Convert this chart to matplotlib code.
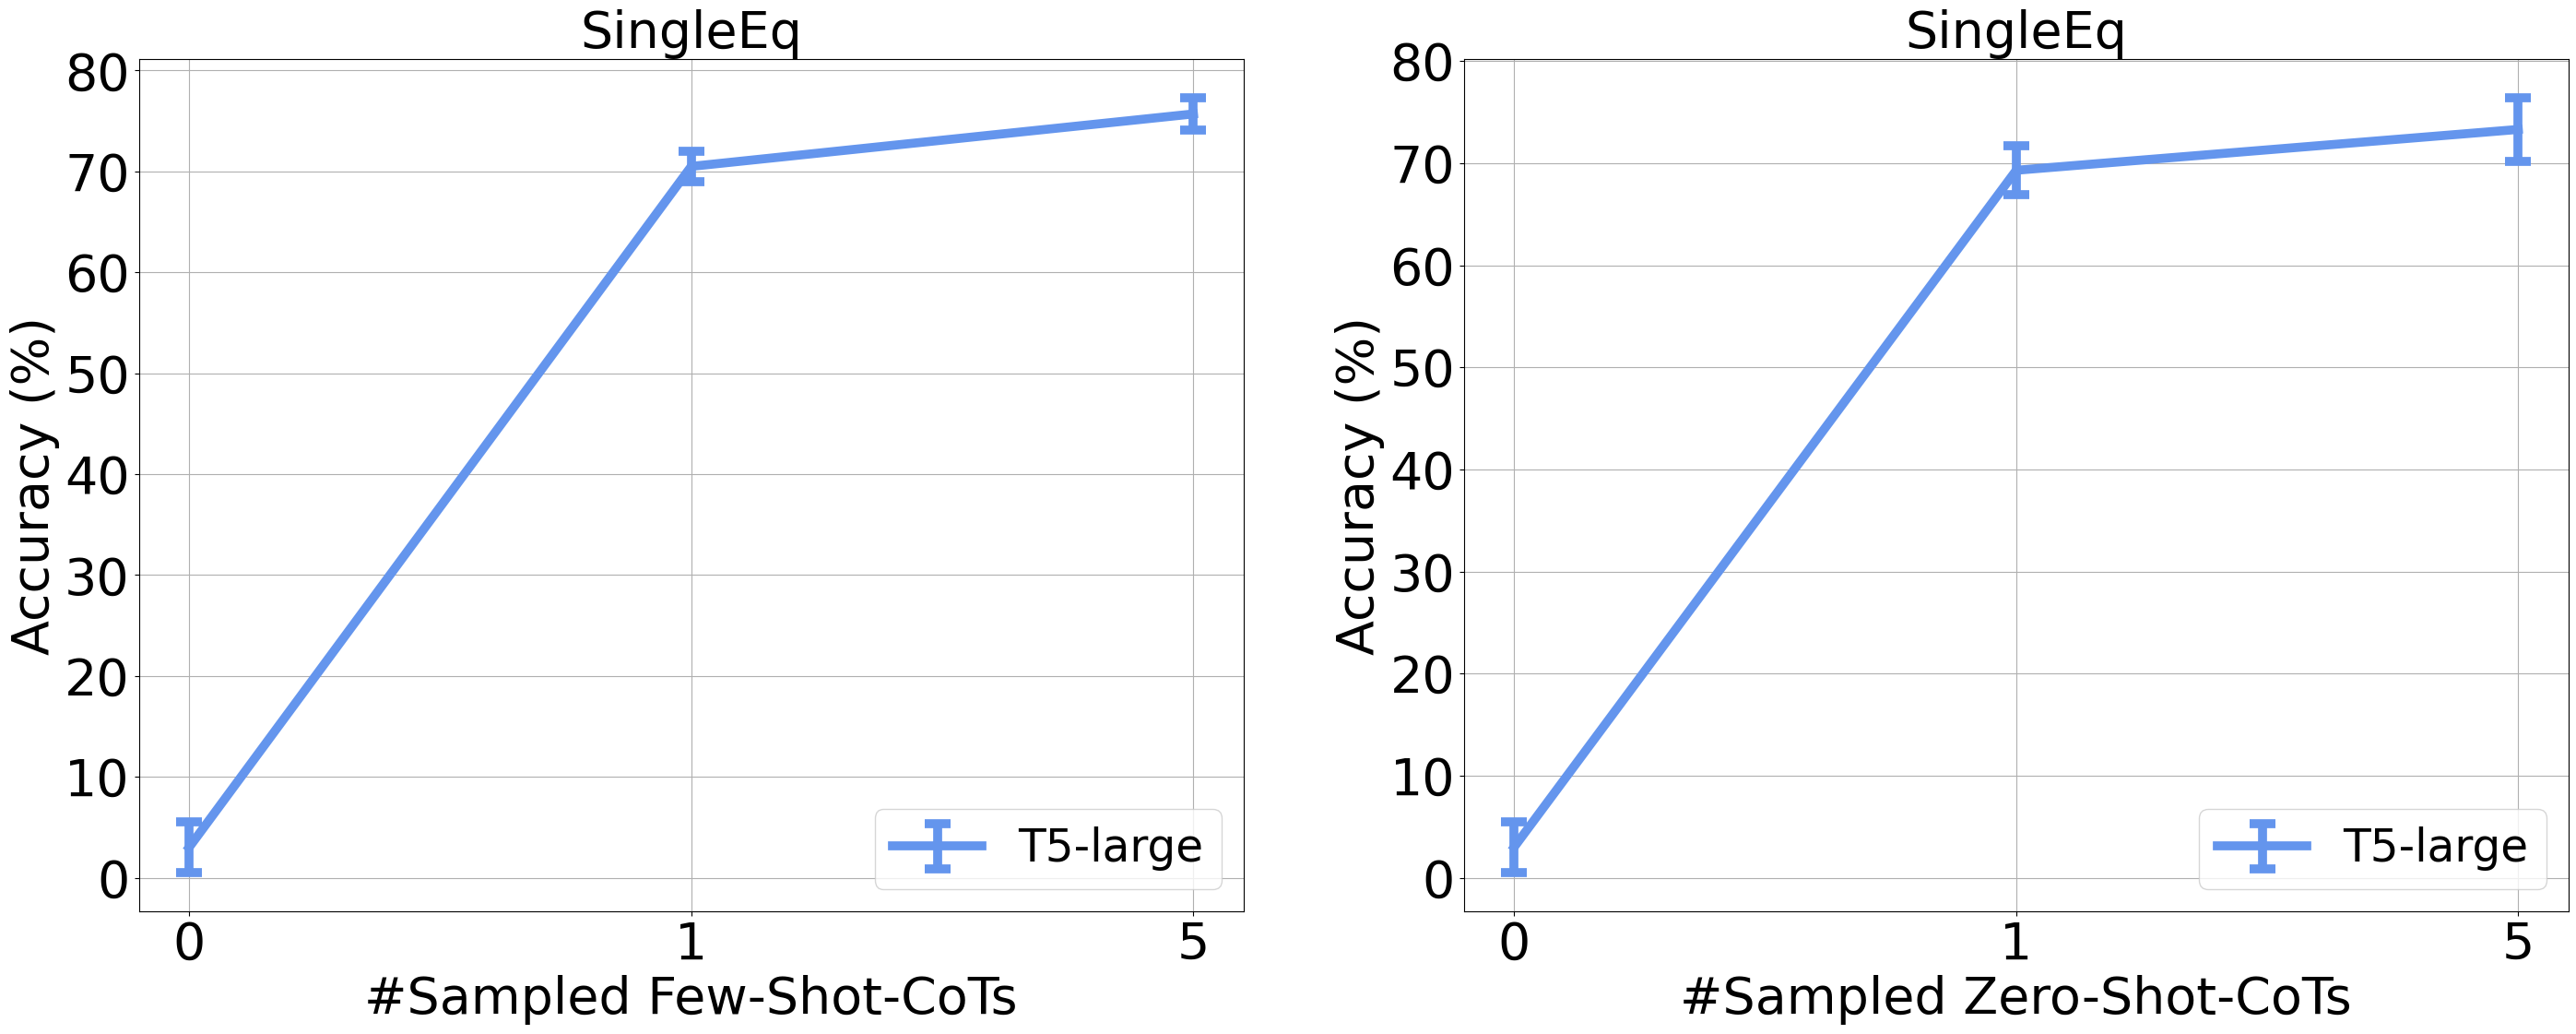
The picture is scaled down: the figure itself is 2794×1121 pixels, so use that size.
import matplotlib
matplotlib.use("Agg")
import matplotlib.pyplot as plt
import numpy as np

# x categories (number of sampled CoTs)
shots = ["0", "1", "5"]
model_name = "T5-large"

# accuracy (%) and error bar half-widths
few_shot_acc = [3.0, 70.5, 75.7]
few_shot_err = [2.5, 1.5, 1.6]
zero_shot_acc = [3.0, 69.3, 73.3]
zero_shot_err = [2.5, 2.4, 3.1]

panels = [
    ("SingleEq", "#Sampled Few-Shot-CoTs", few_shot_acc, few_shot_err),
    ("SingleEq", "#Sampled Zero-Shot-CoTs", zero_shot_acc, zero_shot_err),
]

FS = 40
fig = plt.figure(figsize=(27.94, 11.21), dpi=100)
axes = [fig.add_axes([0.0539, 0.1186, 0.4289, 0.8243]),
        fig.add_axes([0.5683, 0.1186, 0.4288, 0.8243])]

x = np.arange(len(shots))
for ax, (title, xlabel, acc, err) in zip(axes, panels):
    ax.errorbar(x, acc, yerr=err, color="cornflowerblue", lw=7,
                elinewidth=7, capsize=10, capthick=7, label=model_name)
    ax.set_xticks(x)
    ax.set_xticklabels(shots)
    ax.set_yticks(np.arange(0, 81, 10))
    ax.tick_params(labelsize=FS)
    ax.set_title(title, fontsize=FS)
    ax.set_xlabel(xlabel, fontsize=FS)
    ax.set_ylabel("Accuracy (%)", fontsize=FS)
    ax.grid(True)
    ax.legend(loc="lower right", fontsize=35)

fig.savefig("out.png", dpi=100)
